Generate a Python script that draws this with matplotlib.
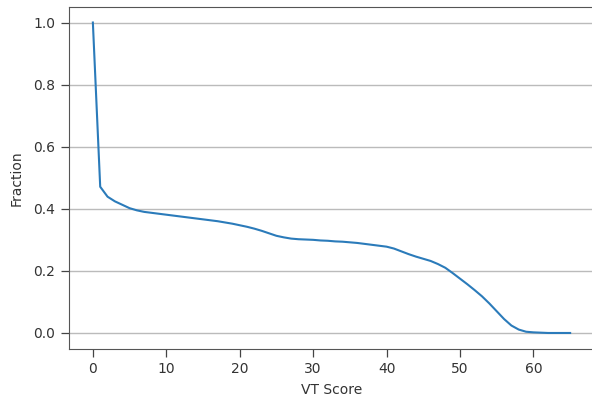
import matplotlib
matplotlib.use("Agg")
import matplotlib.pyplot as plt
import numpy as np

# fraction of samples with a VT score at or above each threshold
vt_score = np.arange(0, 66)
fraction = [1.0, 0.471, 0.439, 0.424, 0.413, 0.402, 0.395, 0.39, 0.387, 0.384,
            0.381, 0.378, 0.375, 0.372, 0.369, 0.366, 0.363, 0.36, 0.356, 0.352,
            0.347, 0.342, 0.336, 0.329, 0.321, 0.313, 0.308, 0.304, 0.302, 0.301,
            0.3, 0.298, 0.297, 0.295, 0.294, 0.292, 0.29, 0.287, 0.284, 0.281,
            0.278, 0.272, 0.263, 0.254, 0.246, 0.239, 0.232, 0.222, 0.21, 0.193,
            0.175, 0.157, 0.138, 0.118, 0.095, 0.07, 0.045, 0.024, 0.011, 0.004,
            0.002, 0.001, 0.0, 0.0, 0.0, 0.0]

fig = plt.figure(figsize=(5.92, 4.03), dpi=100)
ax = fig.add_axes([69/592, 1 - 348.5/403, (594 - 69)/592, (348.5 - 7)/403])

ax.plot(vt_score, fraction, color='#2b7bba')
ax.grid(axis='y', color='#bbbbbb', linewidth=1.0)
ax.set_xlabel("VT Score", color='#333333', labelpad=5)
ax.set_ylabel("Fraction", color='#333333', labelpad=6.5)
ax.tick_params(length=5.5, width=0.9, pad=4.5, colors='#444444', labelcolor='#333333')
for s in ax.spines.values():
    s.set_color('#555555')

fig.savefig("out.png", dpi=100)
